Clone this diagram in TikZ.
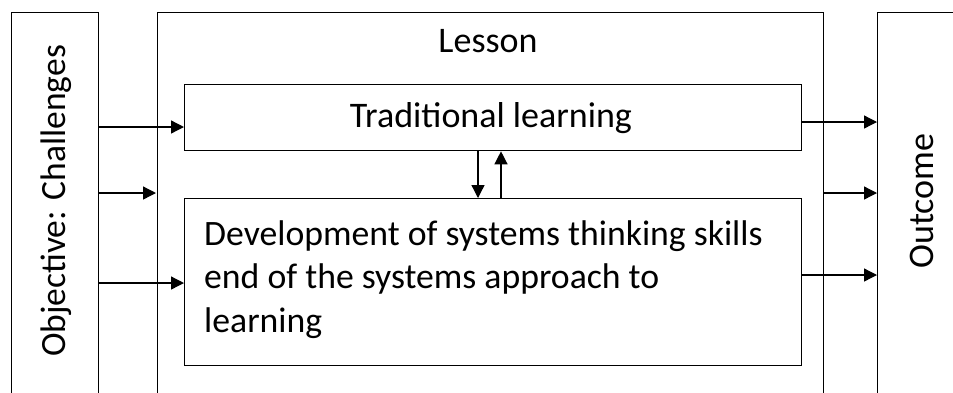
\documentclass[tikz,border=0pt]{standalone}
\usepackage{fontspec}
\setmainfont{Carlito}
\usetikzlibrary{arrows.meta}
\tikzset{
    block/.style = {
        draw,
        line width=1.3pt,
        anchor=north west,
        inner sep=0pt},
    flow/.style = {
        draw,
        line width=1.3pt,
        -{Triangle[length=13pt,width=13pt]}},
    caption/.style = {
        font=\fontsize{36}{43.5}\selectfont,
        inner sep=0pt}
}

\begin{document}
\begin{tikzpicture}[
    x = 1pt,
    y = -1pt
]

\useasboundingbox (0,0) rectangle (953,392);
\clip (0,0) rectangle (953,392);

% outer frames, open at the bottom
\node [block, minimum width=87pt, minimum height=400pt] (objective) at (11,12) {};
\node [block, minimum width=666pt, minimum height=400pt] (lesson) at (157,12) {};
\node [block, minimum width=100pt, minimum height=400pt] (outcome) at (877,12) {};

% inner boxes
\node [block, minimum width=617pt, minimum height=66pt] (trad) at (184,84) {};
\node [block, minimum width=617pt, minimum height=167pt] (devel) at (184,198) {};

% texts
\node [caption, font=\fontsize{35.5}{43.5}\selectfont, rotate=90, anchor=base] (objtext) at (65,201) {Objective: Challenges};
\node [caption, rotate=90, anchor=base] (outtext) at (933,201) {Outcome};
\node [caption, anchor=base] (lessontext) at (488,52) {Lesson};
\node [caption, anchor=base] (tradtext) at (491,127) {Traditional learning};
\node [caption, font=\fontsize{35.7}{43.5}\selectfont, anchor=base west, align=left] (develtext) at (204,332)
    {Development of systems thinking skills\\end of the systems approach to\\learning};

% inputs
\draw [flow] (objective.east |- 0,127) -- (trad.west |- 0,127);
\draw [flow] (objective.east |- 0,193) -- ([xshift=-1pt]lesson.west |- 0,193);
\draw [flow] (objective.east |- 0,283) -- (devel.west |- 0,283);

% outputs
\draw [flow] (trad.east |- 0,122) -- (outcome.west |- 0,122);
\draw [flow] (lesson.east |- 0,193) -- (outcome.west |- 0,193);
\draw [flow] (devel.east |- 0,275) -- (outcome.west |- 0,275);

% exchange between the two inner boxes
\draw [flow] (trad.south -| 478,0) -- (devel.north -| 478,0);
\draw [flow] (devel.north -| 501,0) -- (trad.south -| 501,0);

\end{tikzpicture}
\end{document}
